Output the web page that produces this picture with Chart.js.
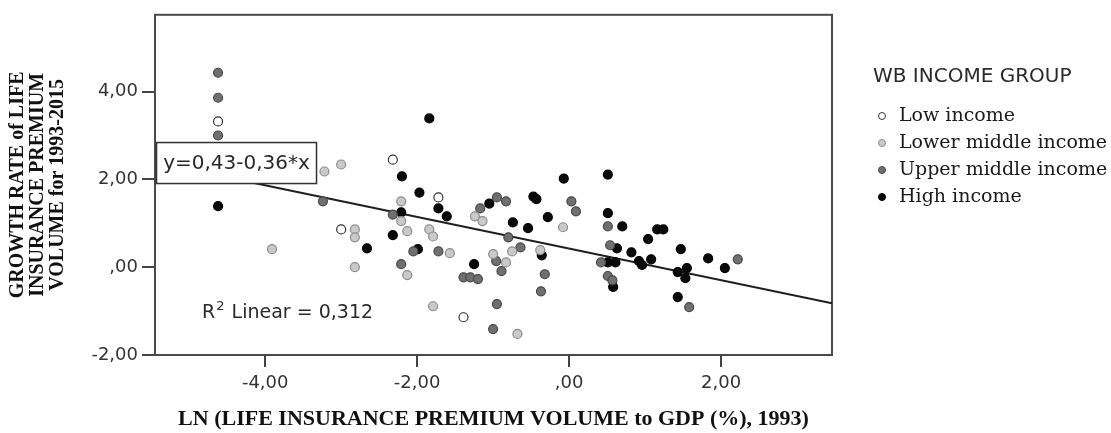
<!DOCTYPE html>
<html>
<head>
<meta charset="utf-8">
<script src="https://cdn.jsdelivr.net/npm/chart.js@4.4.0/dist/chart.umd.min.js"></script>
<style>
  html, body { margin: 0; padding: 0; background: #fff; }
</style>
</head>
<body>
<canvas id="chart" width="1111" height="433"></canvas>
<script>
// values, [x, y]
const lowIncome = [[-4.62, 3.32], [-2.32, 2.45], [-1.72, 1.59], [-3.0, 0.86], [-1.39, -1.14]]

const lowerMiddleIncome = [
  [-3.22, 2.18], [-3.0, 2.34], [-3.91, 0.41], [-2.82, 0.0], [-2.82, 0.86], [-2.82, 0.68],
  [-2.21, 1.5], [-2.21, 1.05], [-2.13, 0.82], [-2.13, -0.18], [-1.84, 0.86], [-1.79, 0.7],
  [-1.57, 0.32], [-1.79, -0.89], [-1.24, 1.16], [-1.14, 1.05], [-1.0, 0.3], [-0.83, 0.11],
  [-0.75, 0.36], [-0.68, -1.52], [-0.38, 0.39], [-0.08, 0.91]
]

const upperMiddleIncome = [
  [-4.62, 4.43], [-4.62, 3.86], [-4.62, 3.0], [-3.24, 1.5], [-2.32, 1.2], [-2.21, 0.07],
  [-2.05, 0.36], [-1.72, 0.36], [-1.39, -0.23], [-1.3, -0.23], [-1.2, -0.27], [-0.95, -0.84],
  [-1.0, -1.41], [-0.89, -0.09], [-0.96, 0.14], [-1.17, 1.34], [-0.95, 1.59], [-0.83, 1.5],
  [-0.8, 0.68], [-0.64, 0.45], [-0.32, -0.16], [-0.37, -0.55], [0.03, 1.5], [0.09, 1.27],
  [0.51, 0.93], [0.54, 0.5], [0.42, 0.11], [0.51, -0.2], [0.57, -0.3], [1.58, -0.91], [2.22, 0.18]
]

const highIncome = [
  [-4.62, 1.39], [-1.84, 3.39], [-2.2, 2.07], [-1.97, 1.7], [-1.72, 1.34], [-1.61, 1.16],
  [-2.21, 1.25], [-2.32, 0.73], [-2.66, 0.43], [-1.99, 0.41], [-1.25, 0.07], [-1.05, 1.45],
  [-0.74, 1.02], [-0.54, 0.89], [-0.47, 1.61], [-0.43, 1.55], [-0.28, 1.14], [-0.07, 2.02],
  [-0.36, 0.27], [0.51, 2.11], [0.51, 1.23], [0.7, 0.93], [1.04, 0.64], [1.16, 0.86],
  [1.24, 0.86], [0.63, 0.43], [0.82, 0.34], [0.92, 0.14], [0.96, 0.05], [1.08, 0.18],
  [1.47, 0.41], [1.43, -0.11], [1.55, -0.02], [1.53, -0.25], [1.83, 0.2], [2.05, -0.02],
  [0.51, 0.11], [0.61, 0.11], [0.58, -0.45], [1.43, -0.68]
]

// fit line ends (y=0,43-0,36*x)
const fitLine = [[-4.62, 2.09], [3.46, -0.82]]

const groupNames = ['Low income', 'Lower middle income', 'Upper middle income', 'High income']
const groupFill = ['#ffffff', '#c9c9c9', '#6f6f6f', '#0a0a0a']
const groupEdge = ['#333333', '#8c8c8c', '#474747', '#000000']

const xTickValues = [-4, -2, 0, 2]
const xTickLabels = ['-4,00', '-2,00', ',00', '2,00']
const yTickValues = [-2, 0, 2, 4]
const yTickLabels = ['-2,00', ',00', '2,00', '4,00']

const xTitle = 'LN (LIFE INSURANCE PREMIUM VOLUME to GDP (%), 1993)'
const yTitle = ['GROWTH RATE of LIFE', 'INSURANCE PREMIUM', 'VOLUME for 1993-2015']
const legendTitle = 'WB INCOME GROUP'
const equationText = 'y=0,43-0,36*x'
const r2Text = ['R', '2', ' Linear = 0,312']

const toPoints = arr => arr.map(p => ({ x: p[0], y: p[1] }))

const frame = {
  id: 'frame',
  beforeDatasetsDraw(chart) {
    const { ctx, chartArea: a } = chart
    ctx.save()
    ctx.strokeStyle = '#4a4a4a'
    ctx.lineWidth = 2
    ctx.strokeRect(a.left, a.top, a.right - a.left, a.bottom - a.top)
    ctx.restore()
  },
  afterDatasetsDraw(chart) {
    const { ctx, scales: { x, y } } = chart
    ctx.save()
    // equation box
    const bx = x.getPixelForValue(-5.43), by = y.getPixelForValue(2.84)
    const bw = 160, bh = 41
    ctx.fillStyle = '#fff'
    ctx.fillRect(bx, by, bw, bh)
    ctx.strokeStyle = '#333'
    ctx.lineWidth = 1.5
    ctx.strokeRect(bx, by, bw, bh)
    ctx.fillStyle = '#2a2a2a'
    ctx.font = '20px "DejaVu Sans"'
    ctx.textBaseline = 'middle'
    ctx.textAlign = 'center'
    ctx.fillText(equationText, bx + bw / 2, by + bh / 2 + 1)

    // R2 label
    ctx.textAlign = 'left'
    ctx.font = '19px "DejaVu Sans"'
    let rx = x.getPixelForValue(-4.83), ry = y.getPixelForValue(-1.05)
    ctx.fillText(r2Text[0], rx, ry)
    rx += ctx.measureText(r2Text[0]).width + 1
    ctx.font = '13px "DejaVu Sans"'
    ctx.fillText(r2Text[1], rx, ry - 7)
    rx += ctx.measureText(r2Text[1]).width + 1
    ctx.font = '19px "DejaVu Sans"'
    ctx.fillText(r2Text[2], rx, ry)
    ctx.restore()
  },
  afterDraw(chart) {
    const { ctx } = chart
    ctx.save()
    ctx.textBaseline = 'middle'
    ctx.textAlign = 'left'
    ctx.fillStyle = '#2a2a2a'
    ctx.font = '20px "DejaVu Sans"'
    ctx.fillText(legendTitle, 873, 77)
    ctx.font = '19px "DejaVu Serif"'
    groupNames.forEach((name, i) => {
      const ly = 116 + i * 27
      ctx.beginPath()
      ctx.arc(882, ly, 3.5, 0, Math.PI * 2)
      ctx.fillStyle = groupFill[i]
      ctx.fill()
      ctx.lineWidth = 1
      ctx.strokeStyle = groupEdge[i]
      ctx.stroke()
      ctx.fillStyle = '#1a1a1a'
      ctx.fillText(name, 899, ly)
    })
    ctx.restore()
  }
}

const scatterSets = [lowIncome, lowerMiddleIncome, upperMiddleIncome, highIncome].map((arr, i) => ({
  type: 'scatter',
  label: groupNames[i],
  data: toPoints(arr),
  backgroundColor: groupFill[i],
  borderColor: groupEdge[i],
  borderWidth: 1.2,
  pointRadius: 4.5,
  order: 1
}))

new Chart(document.getElementById('chart'), {
  type: 'scatter',
  data: {
    datasets: [
      ...scatterSets,
      {
        type: 'line',
        label: 'fit',
        data: toPoints(fitLine),
        borderColor: '#1e1e1e',
        borderWidth: 2,
        pointRadius: 0,
        fill: false,
        order: 2
      }
    ]
  },
  options: {
    responsive: false,
    animation: false,
    layout: { padding: { top: 14, right: 279, left: 0, bottom: 0 } },
    plugins: { legend: { display: false }, tooltip: { enabled: false } },
    scales: {
      x: {
        type: 'linear',
        min: -5.45,
        max: 3.46,
        afterBuildTicks: s => { s.ticks = xTickValues.map(v => ({ value: v })) },
        afterFit: s => { s.height = 78 },
        border: { display: false },
        grid: { drawOnChartArea: false, tickLength: 12, color: '#444', lineWidth: 2 },
        ticks: {
          autoSkip: false, maxRotation: 0, padding: 6, color: '#333',
          font: { family: 'DejaVu Sans', size: 18 },
          callback: (v, i) => xTickLabels[i]
        },
        title: {
          display: true, text: xTitle, color: '#111',
          font: { family: 'Liberation Serif', size: 22, weight: 'bold' },
          padding: { top: 0, bottom: 0 }
        }
      },
      y: {
        type: 'linear',
        min: -2,
        max: 5.75,
        afterBuildTicks: s => { s.ticks = yTickValues.map(v => ({ value: v })) },
        afterFit: s => { s.width = 155 },
        border: { display: false },
        grid: { drawOnChartArea: false, tickLength: 13, color: '#444', lineWidth: 2 },
        ticks: {
          autoSkip: false, padding: 4, color: '#333',
          font: { family: 'DejaVu Sans', size: 18 },
          callback: (v, i) => yTickLabels[i]
        },
        title: {
          display: true, text: yTitle, color: '#111',
          font: { family: 'Liberation Serif', size: 20, weight: 'bold', lineHeight: 1.0 },
          padding: { top: 8, bottom: 0 }
        }
      }
    }
  },
  plugins: [frame]
})
</script>
</body>
</html>
